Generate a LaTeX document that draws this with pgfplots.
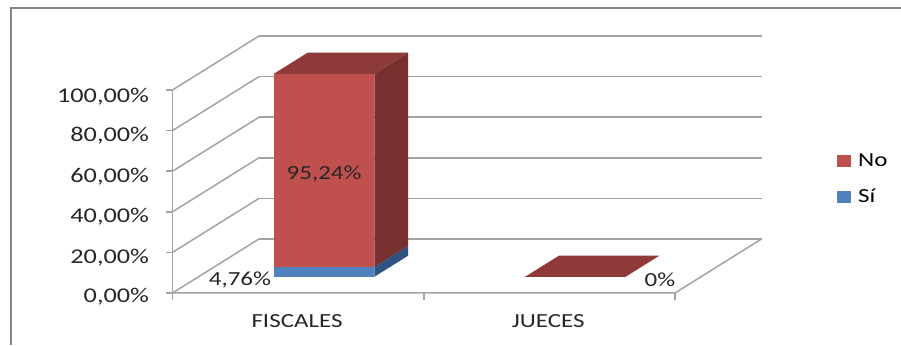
\documentclass[border=0pt]{standalone}
\usepackage{pgfplots}
\pgfplotsset{compat=1.18}
\usepackage{fontspec}
\setmainfont[FakeStretch=1.25]{Carlito}
\definecolor{noFront}{HTML}{C0504D}
\definecolor{noTop}{HTML}{8E3A38}
\definecolor{noSide}{HTML}{77302E}
\definecolor{siFront}{HTML}{4F81BD}
\definecolor{siSide}{HTML}{2F5280}
\definecolor{gridGrey}{HTML}{A3A3A3}
\definecolor{frameGrey}{HTML}{858585}
\definecolor{labelInk}{HTML}{262626}
\newcommand{\chartfont}{\fontsize{21}{23}\selectfont}
\newcommand{\catfont}{\fontsize{20}{22}\selectfont}
\begin{document}
\begin{tikzpicture}[x=1pt,y=1pt]
  \useasboundingbox (0,0) rectangle (901,345);
  \draw[frameGrey,line width=2pt] (10.5,0) -- (10.5,337) -- (901,337);
  \begin{axis}[
    anchor=origin, at={(172.5pt,52pt)},
    x={(251.25pt,0pt)}, y={(86.5pt,54pt)}, z={(0pt,2.03pt)},
    xmin=0, xmax=2, ymin=0, ymax=1, zmin=0, zmax=100,
    clip=false,
    axis line style={draw=none},
    major tick length=0pt,
    ytick=\empty,
    xtick={0.5,1.5},
    xticklabels={FISCALES,JUECES},
    ztick={0,20,40,60,80,100},
    zticklabels={{0,00\%},{20,00\%},{40,00\%},{60,00\%},{80,00\%},{100,00\%}},
    zmajorgrids,
    grid style={gridGrey,line width=1.5pt},
    tick label style={text=labelInk},
    x tick label style={font=\catfont,xshift=4.5pt,yshift=-18pt},
    z tick label style={font=\chartfont,xshift=-20pt,yshift=7pt},
    legend image code/.code={\fill[#1] (0pt,-6pt) rectangle (14pt,6pt); \path (19pt,0pt);},
    legend style={draw=none,fill=none,font=\catfont,
      at={(1.128,0.55)},anchor=north west,inner sep=0pt,
      row sep=17pt},
    legend cell align=left,
  ]
    % floor edges
    \addplot3[gridGrey,line width=1.5pt,forget plot] coordinates {(0,0,0) (0,0,100)};
    \addplot3[gridGrey,line width=1.5pt,forget plot] coordinates {(0,0,0) (2,0,0) (2,1,0)};

    % No, FISCALES: front, side, top
    \addplot3[fill=noFront,draw=none] coordinates {(0.30,0.30,4.76) (0.70,0.30,4.76) (0.70,0.30,100) (0.30,0.30,100)};
    \addlegendentry{No}
    \addplot3[fill=noSide,draw=none,forget plot] coordinates {(0.70,0.30,4.76) (0.70,0.69,4.76) (0.70,0.69,100) (0.70,0.30,100)};
    \addplot3[fill=noTop,draw=none,forget plot] coordinates {(0.30,0.30,100) (0.70,0.30,100) (0.70,0.69,100) (0.30,0.69,100)};

    % Si, FISCALES: front and side
    \addplot3[fill=siFront,draw=none] coordinates {(0.30,0.30,0) (0.70,0.30,0) (0.70,0.30,4.76) (0.30,0.30,4.76)};
    \addlegendentry{Sí}
    \addplot3[fill=siSide,draw=none,forget plot] coordinates {(0.70,0.30,0) (0.70,0.69,0) (0.70,0.69,4.76) (0.70,0.30,4.76)};

    % JUECES: zero height, only the top face shows
    \addplot3[fill=noTop,draw=none,forget plot] coordinates {(1.30,0.30,0) (1.70,0.30,0) (1.70,0.69,0) (1.30,0.69,0)};

    % value labels
    \node[font=\catfont,text=labelInk,yshift=-3pt] at (axis cs:0.5,0.30,52.38) {95,24\%};
    \node[font=\catfont,text=labelInk] at (axis cs:0.165,0.30,-1.5) {4,76\%};
    \node[font=\catfont,text=labelInk] at (axis cs:1.837,0.30,-1.5) {0\%};

    % tick marks on the front edges
    \draw[gridGrey,line width=1.5pt]
      (axis cs:0,0,0) -- ++(0pt,-7pt)
      (axis cs:1,0,0) -- ++(0pt,-7pt)
      (axis cs:2,0,0) -- ++(0pt,-7pt)
      (axis cs:0,0,0) -- ++(-7pt,0pt)
      (axis cs:0,0,20) -- ++(-7pt,0pt)
      (axis cs:0,0,40) -- ++(-7pt,0pt)
      (axis cs:0,0,60) -- ++(-7pt,0pt)
      (axis cs:0,0,80) -- ++(-7pt,0pt)
      (axis cs:0,0,100) -- ++(-7pt,0pt);
  \end{axis}
\end{tikzpicture}
\end{document}
